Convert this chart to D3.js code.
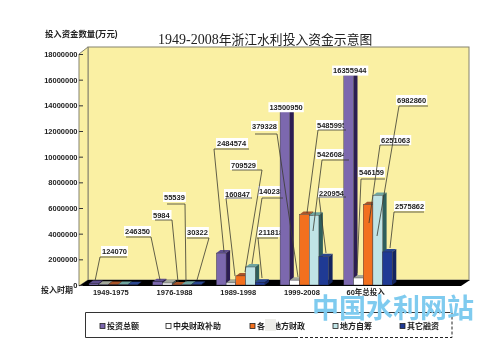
<!DOCTYPE html>
<html>
<head>
<meta charset="utf-8">
<script src="https://cdn.jsdelivr.net/npm/d3@7"></script>
<style>
    html, body { margin: 0; padding: 0; background: #fff; }
    svg { display: block; filter: blur(0.35px); }
    text { font-family: "Liberation Sans", "Noto Sans CJK SC", sans-serif; fill: #222; }
    .num { font-size: 7.5px; font-weight: bold; }
    .cjk { font-size: 8px; font-weight: bold; }
</style>
</head>
<body>
<svg id="chart" width="500" height="362"></svg>
<script>
// Values in 万元
const periods = ["1949-1975", "1976-1988", "1989-1998", "1999-2008", "60年总投入"];
const seriesNames = ["投资总额", "中央财政补助", "各级地方财政", "地方自筹", "其它融资"];
const total = [124070, 246350, 2484574, 13500950, 16355944];
const central = [50000, 154505, 160847, 379328, 546159];
const local = [30000, 5984, 709529, 5485995, 6251063];
const selfRaised = [30000, 55539, 1402380, 5426084, 6982860];
const other = [14070, 30322, 211818, 2209543, 2575862];
const seriesValues = [total, central, local, selfRaised, other];
const yTicks = [0, 2000000, 4000000, 6000000, 8000000, 10000000, 12000000, 14000000, 16000000, 18000000];

// front, side, top colours of each series
const barColors = [
    ["#7c68ae", "#2c1d52", "#5f4f8e"],
    ["#ffffff", "#4b5a58", "#a3a89c"],
    ["#f2701f", "#5c3a20", "#a8552a"],
    ["#c0e4e6", "#2f5f5c", "#6fa5a0"],
    ["#1f3a94", "#14255f", "#2a468f"]
];

// Callouts: group, series, text left, text middle, underline y, underline from/to, elbow x, leader end
const callouts = [
    [0, 0, 102, 251, 257, 100, 127, 100, 95, 281],
    [1, 0, 125, 231, 237, 126, 151, 151, 160, 280],
    [1, 2, 153, 215, 220, 155, 172, 172, 178, 282],
    [1, 3, 164, 197, 204, 167, 185, 185, 186, 282],
    [1, 4, 187, 232, 238, 187, 209, 209, 197, 280],
    [2, 0, 217, 143, 149, 214, 249, 214, 224, 252],
    [2, 1, 225, 194, 198, 226, 252, 226, 235, 276],
    [2, 2, 231, 165, 170, 232, 262, 262, 245, 272],
    [2, 3, 259, 191, 198, 262, 283, 262, 252, 264],
    [2, 4, 258.5, 232, 238, 257, 278, 258, 262, 278],
    [3, 1, 252, 126, 134, 255, 277, 277, 298, 277],
    [3, 2, 317, 125, 130, 318, 346, 318, 307, 213],
    [3, 3, 317, 154, 160, 322, 349, 322, 313, 231],
    [3, 4, 319, 193, 197, 319, 346, 319, 326, 253],
    [4, 1, 359, 172, 179, 361, 385, 361, 357, 273],
    [4, 2, 381, 140, 145, 380, 409, 380, 369, 223],
    [4, 3, 397, 100, 106, 399, 428, 399, 377, 236],
    [4, 4, 395, 206, 212, 394, 424, 394, 390, 248]
];

const svg = d3.select("#chart");
const depthX = 4, depthY = 3;

// Scales
const y = d3.scaleLinear().domain([0, 18000000]).range([285, 54]);
const x = d3.scaleBand().domain(periods).range([79, 397.5]);
const xBar = d3.scaleBand().domain(d3.range(seriesNames.length)).range([10, 58.5]);

// Walls and floor
const wall = svg.append("g").attr("stroke", "#85836f").attr("fill", "#faf0a3");
wall.append("rect").attr("x", 88).attr("y", 47).attr("width", 381).attr("height", 233);
wall.append("polygon").attr("points", "79,54 88,47 88,280 79,286");
svg.append("polygon").attr("points", "79,286 88,280 470,280 461,286").attr("fill", "#000");

// Y axis
const yAxis = svg.append("g")
    .attr("transform", "translate(79,0)")
    .call(d3.axisLeft(y).tickValues(yTicks).tickSizeInner(-4).tickSizeOuter(0).tickPadding(1.5).tickFormat(d3.format("d")));
yAxis.select(".domain").remove();
yAxis.selectAll("line").attr("stroke", "#333");
yAxis.selectAll("text").attr("class", "num");

// X axis
const xAxis = svg.append("g")
    .attr("transform", "translate(0,286)")
    .call(d3.axisBottom(x).tickSize(0).tickPadding(3.5));
xAxis.select(".domain").remove();
xAxis.selectAll("text").attr("class", "num").attr("font-family", null);

// Callout text goes under the bars, so tall bars cut it off
function labelBox(sel, cx, cy, label, anchor) {
    const g = sel.append("g");
    const t = g.append("text").attr("class", "num").attr("x", cx).attr("y", cy)
        .attr("dominant-baseline", "central").attr("text-anchor", anchor).text(label);
    const b = t.node().getBBox();
    g.insert("rect", "text").attr("x", b.x - 1).attr("y", b.y - 0.5)
        .attr("width", b.width + 2).attr("height", b.height + 1).attr("fill", "#fff");
}
const calloutText = svg.append("g");
callouts.forEach(c => labelBox(calloutText, c[2], c[3], seriesValues[c[1]][c[0]], "start"));

// 3D bars
const bars = svg.append("g");
periods.forEach((p, i) => {
    seriesValues.forEach((values, s) => {
        const left = x(p) + xBar(s), right = left + xBar.bandwidth();
        const top = y(values[i]), base = y(0);
        const bar = bars.append("g");
        bar.append("polygon").attr("fill", barColors[s][2])
            .attr("points", [[left, top], [left + depthX, top - depthY], [right + depthX, top - depthY], [right, top]].join(" "));
        bar.append("polygon").attr("fill", barColors[s][1])
            .attr("points", [[right, top], [right + depthX, top - depthY], [right + depthX, base - depthY], [right, base]].join(" "));
        bar.append("rect").attr("x", left).attr("y", top).attr("width", xBar.bandwidth())
            .attr("height", base - top).attr("fill", barColors[s][0]).attr("stroke", "#2a2a3a").attr("stroke-width", 0.4);
    });
});

// Labels above the two tallest bars
periods.slice(3).forEach((p, i) => {
    const v = total[i + 3];
    labelBox(svg, x(p) + xBar(0) + 6, y(v) - 4.5, v, "middle");
});

// Leader lines stay on top of the bars
svg.append("g").selectAll("path").data(callouts).join("path")
    .attr("fill", "none").attr("stroke", "#3a3a30").attr("stroke-width", 0.8)
    .attr("d", c => `M${c[5]},${c[4]}L${c[6]},${c[4]}M${c[7]},${c[4]}L${c[8]},${c[9]}`);

// Title and axis names
const title = svg.append("text").attr("x", 158).attr("y", 44);
title.append("tspan").style("font-family", "'Liberation Serif'").style("font-size", "14px").text("1949-2008");
title.append("tspan").style("font-size", "12.8px").text("年浙江水利投入资金示意图");
svg.append("text").attr("class", "cjk").attr("x", 45).attr("y", 37).style("font-size", "8.4px").text("投入资金数量(万元)");
svg.append("text").attr("class", "cjk").attr("x", 41).attr("y", 293).text("投入时期");

// Legend
const legendSlots = [100, 166, 250, 333, 400];
svg.append("path").attr("fill", "none").attr("stroke", "#333")
    .attr("d", "M295,337.5H85.5V312.5H452");
svg.append("path").attr("fill", "none").attr("stroke", "#222").attr("stroke-dasharray", "3,2")
    .attr("d", "M295,337.5H452V312.5");
const legend = svg.append("g").selectAll("g").data(seriesNames).join("g")
    .attr("transform", (d, i) => `translate(${legendSlots[i]},326)`);
legend.append("rect").attr("x", 0).attr("y", -2.5).attr("width", 5).attr("height", 5)
    .attr("fill", (d, i) => barColors[i][0]).attr("stroke", "#222").attr("stroke-width", 0.8);
legend.append("text").attr("class", "cjk").attr("x", 7).attr("dominant-baseline", "central").text(d => d);

// Watermark
svg.append("rect").attr("x", 265).attr("y", 319).attr("width", 11).attr("height", 12).attr("fill", "#eeeeea");
svg.append("text").attr("x", 312).attr("y", 318)
    .style("font-size", "27px").style("font-weight", "bold").style("fill", "#7fcbef").text("中国水利网站");
</script>
</body>
</html>
